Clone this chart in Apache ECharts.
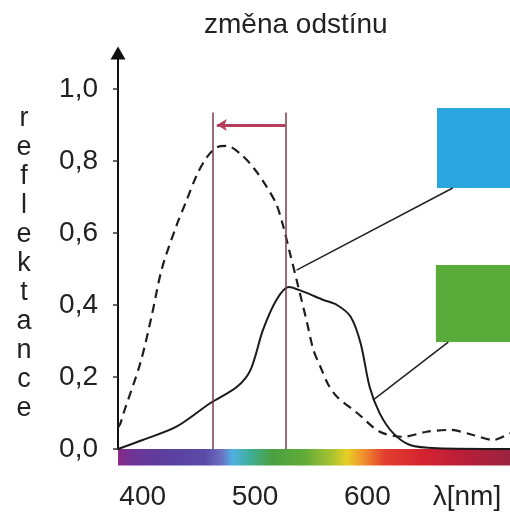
<!DOCTYPE html>
<html>
<head>
<meta charset="utf-8">
<script src="https://cdn.jsdelivr.net/npm/echarts@6/dist/echarts.min.js"></script>
<style>
  html, body { margin: 0; padding: 0; background: #fff; }
  #chart { width: 510px; height: 516px; }
</style>
</head>
<body>
<div id="chart"></div>
<script>
// wavelength range of the x axis (nm)
const xMin = 378;
const xMax = 727;
const xTicks = [400, 500, 600];
const yTicks = [0, 0.2, 0.4, 0.6, 0.8, 1.0];

// dashed curve (blue sample)
const dashedNm = [378, 380, 383, 398, 408, 417, 430, 439, 448, 457, 466, 475, 487, 499, 510, 519, 525, 531, 537, 546, 552, 558, 565, 573, 591, 611, 632, 653, 674, 694, 712, 727];
const dashedR = [0.06, 0.07, 0.10, 0.24, 0.37, 0.50, 0.62, 0.69, 0.76, 0.81, 0.838, 0.842, 0.82, 0.78, 0.73, 0.68, 0.62, 0.545, 0.47, 0.355, 0.275, 0.23, 0.18, 0.145, 0.10, 0.048, 0.034, 0.048, 0.053, 0.039, 0.025, 0.044];

// solid curve (green sample)
const solidNm = [378, 400, 430, 460, 484, 496, 507, 519, 530, 543, 561, 573, 585, 594, 602, 611, 623, 638, 662, 727];
const solidR = [0, 0.025, 0.062, 0.127, 0.173, 0.22, 0.33, 0.414, 0.45, 0.437, 0.414, 0.40, 0.368, 0.294, 0.173, 0.099, 0.044, 0.011, 0.002, 0];

// hue shift markers
const markNm = [462, 527];
const markTop = 0.935;
const arrowY = 0.9;

// spectrum strip colours
const spectrumNm = [378, 390, 420, 455, 470, 480, 495, 515, 545, 568, 582, 595, 615, 650, 690, 727];
const spectrumColors = ['#8a2a86', '#6e3496', '#5c3f9e', '#5a4aa8', '#6a70c0', '#4fb0e2', '#3fae9a', '#4aa040', '#62ac38', '#a8c232', '#e6d022', '#f0962c', '#e2402e', '#d42230', '#b61e3a', '#9a2440'];

// colour swatches [x0, y0, x1, y1] and their leader lines
const blueBox = [662, 0.947, 727, 0.725];
const greenBox = [661, 0.511, 727, 0.297];
const blueLeader = [[676, 0.725], [537, 0.497]];
const greenLeader = [[672, 0.297], [605, 0.136]];

const font = "'Liberation Sans', Arial, sans-serif";
const chart = echarts.init(document.getElementById('chart'));

const spectrumStops = spectrumNm.map((nm, i) => ({
  offset: (nm - xMin) / (xMax - xMin),
  color: spectrumColors[i]
}));

const option = {
  animation: false,
  backgroundColor: '#fff',
  title: {
    text: 'změna odstínu',
    left: 199,
    top: 6,
    textStyle: { fontFamily: font, fontSize: 28, fontWeight: 'normal', color: '#222' }
  },
  grid: { left: 118, right: 0, top: 53, bottom: 67 },
  xAxis: {
    type: 'value',
    min: xMin,
    max: xMax,
    splitLine: { show: false },
    axisLine: { show: false },
    axisTick: { show: false },
    axisLabel: {
      customValues: xTicks,
      margin: 34,
      fontFamily: font,
      fontSize: 28,
      color: '#222'
    }
  },
  yAxis: {
    type: 'value',
    min: 0,
    max: 1.1,
    splitLine: { show: false },
    axisLine: {
      show: true,
      symbol: ['none', 'triangle'],
      symbolSize: [15, 13],
      lineStyle: { color: '#111', width: 2 }
    },
    axisTick: {
      show: true,
      customValues: yTicks,
      length: 5,
      lineStyle: { color: '#333', width: 1.5 }
    },
    axisLabel: {
      customValues: yTicks,
      margin: 20,
      fontFamily: font,
      fontSize: 28,
      color: '#222',
      formatter: v => v.toFixed(1).replace('.', ',')
    }
  },
  graphic: [
    {
      type: 'text',
      x: 24,
      y: 104,
      style: {
        text: 'reflektance'.split('').join('\n'),
        font: '27px ' + font,
        lineHeight: 29,
        align: 'center',
        verticalAlign: 'top',
        fill: '#222'
      }
    },
    {
      type: 'text',
      x: 467,
      y: 497,
      style: {
        text: 'λ[nm]',
        font: '28px ' + font,
        align: 'center',
        verticalAlign: 'middle',
        fill: '#222'
      }
    }
  ],
  series: [
    {
      name: 'spectrum',
      type: 'custom',
      silent: true,
      data: [[xMin, xMax]],
      renderItem: (params, api) => {
        const p0 = api.coord([api.value(0), 0]);
        const p1 = api.coord([api.value(1), -0.046]);
        return {
          type: 'rect',
          shape: { x: p0[0], y: p0[1], width: p1[0] - p0[0], height: p1[1] - p0[1] },
          style: {
            fill: new echarts.graphic.LinearGradient(0, 0, 1, 0, spectrumStops)
          }
        };
      }
    },
    {
      name: 'markers',
      type: 'line',
      data: [],
      silent: true,
      markLine: {
        silent: true,
        symbol: ['none', 'none'],
        label: { show: false },
        lineStyle: { color: '#7e3a4e', width: 1.5, type: 'solid' },
        data: [
          [{ coord: [markNm[0], 0] }, { coord: [markNm[0], markTop] }],
          [{ coord: [markNm[1], 0] }, { coord: [markNm[1], markTop] }],
          [{ coord: blueLeader[0], lineStyle: { color: '#222', width: 1.5 } }, { coord: blueLeader[1] }],
          [{ coord: greenLeader[0], lineStyle: { color: '#222', width: 1.5 } }, { coord: greenLeader[1] }]
        ]
      },
      markArea: {
        silent: true,
        data: [
          [{ coord: [blueBox[0], blueBox[1]], itemStyle: { color: '#2ba6df' } }, { coord: [blueBox[2], blueBox[3]] }],
          [{ coord: [greenBox[0], greenBox[1]], itemStyle: { color: '#5bab3b' } }, { coord: [greenBox[2], greenBox[3]] }]
        ]
      }
    },
    {
      name: 'arrow',
      type: 'line',
      data: [],
      silent: true,
      markLine: {
        silent: true,
        symbol: ['none', 'arrow'],
        symbolSize: [9, 10],
        label: { show: false },
        lineStyle: { color: '#b43e5c', width: 3, type: 'solid' },
        data: [
          [{ coord: [markNm[1], arrowY] }, { coord: [markNm[0] + 4, arrowY] }]
        ]
      }
    },
    {
      name: 'modrá',
      type: 'line',
      smooth: 0.3,
      showSymbol: false,
      silent: true,
      lineStyle: { color: '#1e1e1e', width: 2.2, type: [9, 6] },
      data: dashedNm.map((nm, i) => [nm, dashedR[i]])
    },
    {
      name: 'zelená',
      type: 'line',
      smooth: 0.3,
      showSymbol: false,
      silent: true,
      lineStyle: { color: '#1a1a1a', width: 2 },
      data: solidNm.map((nm, i) => [nm, solidR[i]])
    }
  ]
};

chart.setOption(option);
</script>
</body>
</html>
